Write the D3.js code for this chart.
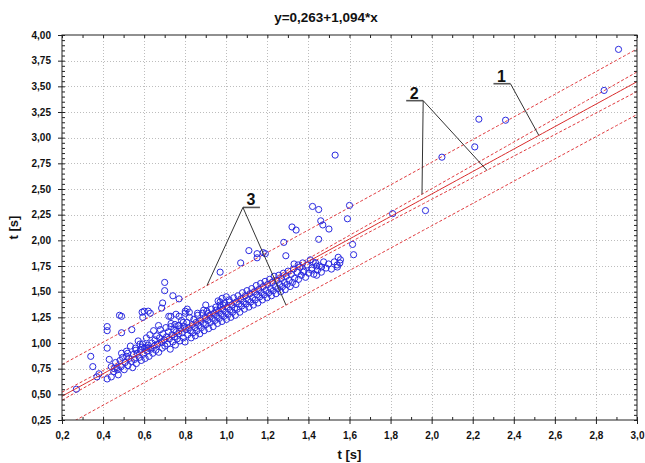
<!DOCTYPE html>
<html>
<head>
<meta charset="utf-8">
<script src="https://cdn.jsdelivr.net/npm/d3@7/dist/d3.min.js"></script>
<style>
  html, body { margin: 0; padding: 0; background: #fff; }
  svg { display: block; font-family: Arial, "Liberation Sans", sans-serif; }
</style>
</head>
<body>
<svg id="chart" width="645" height="463"></svg>
<script>
// Regression fit (as printed in the title)
const regIntercept = 0.263;
const regSlope = 1.094;
const titleText = "y=0,263+1,094*x";

// Band parameters: t*s, number of observations, mean of x, sum of squares of x
const tS = 0.305;
const nObs = 250;
const xMean = 0.95;
const sxx = 45;

// Axis ticks
const xTicks = [0.2, 0.4, 0.6, 0.8, 1.0, 1.2, 1.4, 1.6, 1.8, 2.0, 2.2, 2.4, 2.6, 2.8, 3.0];
const xTickLabels = ["0,2","0,4","0,6","0,8","1,0","1,2","1,4","1,6","1,8","2,0","2,2","2,4","2,6","2,8","3,0"];
const yTicks = [0.25, 0.5, 0.75, 1.0, 1.25, 1.5, 1.75, 2.0, 2.25, 2.5, 2.75, 3.0, 3.25, 3.5, 3.75, 4.0];
const yTickLabels = ["0,25","0,50","0,75","1,00","1,25","1,50","1,75","2,00","2,25","2,50","2,75","3,00","3,25","3,50","3,75","4,00"];
const xAxisTitle = "t [s]";
const yAxisTitle = "t [s]";

// Observations, scattered away from the main cloud
const outlierX = [0.27,0.34,0.35,0.37,0.38,0.42,0.42,0.42,0.43,0.42,0.44,0.44,0.455,0.47,0.48,0.49,0.49,0.49,0.515,0.52,
  0.54,0.56,0.58,0.59,0.59,0.60,0.62,0.63,0.593,0.61,0.62,0.67,0.685,0.69,0.70,0.70,0.72,0.73,0.74,0.77,
  0.73,0.75,0.77,0.755,0.77,0.79,0.80,0.81,0.82,0.80,0.86,0.89,0.90,0.91,0.95,0.97,0.97,1.00,0.985,1.015,
  0.96,0.98,1.07,1.11,1.15,1.18,1.19,1.15,1.28,1.29,1.32,1.34,1.42,1.45,1.46,1.47,1.50,1.45,1.53,1.60,
  1.59,1.615,1.62,1.81,1.97,2.05,2.21,2.23,2.36,2.84,2.91,1.375,1.416,1.44,1.33,1.35,1.423,1.44,1.464,1.545,
  1.553,1.54];
const outlierY = [0.55,0.87,0.77,0.67,0.70,0.95,1.12,1.16,0.84,0.65,0.67,0.77,0.75,0.74,1.27,1.26,1.10,0.90,0.87,0.90,
  1.13,0.93,0.99,0.96,1.30,1.31,1.31,1.29,1.25,0.96,0.95,1.17,1.34,1.39,1.59,1.51,1.26,1.26,1.46,1.43,
  1.16,1.18,1.17,1.28,1.26,1.20,1.29,1.33,1.30,1.31,1.29,1.32,1.37,1.29,1.32,1.69,1.40,1.45,1.37,1.40,
  1.41,1.435,1.78,1.90,1.87,1.88,1.87,1.83,1.98,1.85,2.13,2.10,2.33,2.30,2.19,2.15,2.11,2.01,2.83,2.34,
  2.21,1.96,1.86,2.26,2.29,2.81,2.91,3.18,3.17,3.46,3.86,1.69,1.71,1.66,1.77,1.76,1.79,1.75,1.74,1.835,
  1.78,1.76];

// Observations in the main cloud along the fitted line
const cloudX = [
  0.452,0.461,0.468,0.474,0.483,0.488,0.495,0.503,0.507,0.514,0.521,0.526,0.533,0.538,0.544,0.549,
  0.553,0.558,0.562,0.567,0.571,0.576,0.581,0.586,0.592,0.596,0.601,0.605,0.611,0.614,0.619,0.624,0.628,0.633,0.637,0.642,0.646,0.649,
  0.653,0.657,0.661,0.666,0.671,0.675,0.679,0.684,0.688,0.692,0.697,0.701,0.706,0.709,0.714,0.718,0.723,0.727,0.731,0.735,0.739,0.744,0.748,
  0.752,0.757,0.761,0.765,0.769,0.774,0.778,0.782,0.786,0.791,0.795,0.799,0.803,0.808,0.812,0.816,0.821,0.825,0.829,0.834,0.838,0.842,0.847,0.849,
  0.853,0.857,0.861,0.866,0.871,0.875,0.879,0.884,0.888,0.892,0.897,0.901,0.905,0.910,0.914,0.919,0.923,0.928,0.932,0.936,0.941,0.945,0.949,
  0.953,0.957,0.962,0.966,0.970,0.975,0.979,0.983,0.988,0.992,0.996,1.001,1.005,1.009,1.014,1.018,1.022,1.027,1.031,1.036,1.040,1.044,1.049,
  1.053,1.057,1.062,1.066,1.071,1.075,1.079,1.084,1.088,1.093,1.097,1.101,1.106,1.110,1.115,1.119,1.124,1.128,1.132,1.137,1.141,1.146,1.149,
  1.154,1.158,1.163,1.167,1.171,1.176,1.180,1.185,1.189,1.193,1.198,1.202,1.207,1.211,1.216,1.220,1.225,1.229,1.233,1.238,1.242,1.247,
  1.251,1.256,1.260,1.265,1.269,1.274,1.278,1.283,1.287,1.292,1.296,1.301,1.306,1.311,1.316,1.322,1.327,1.333,1.339,1.345,
  1.352,1.358,1.365,1.372,1.379,1.386,1.393,1.401,1.409,1.417,1.426,1.435,1.444,1.453,1.463,1.474,1.486,1.498,1.512,1.526,1.541,1.556];
const cloudY = [
  0.72,0.81,0.76,0.69,0.83,0.77,0.86,0.74,0.81,0.92,0.78,0.85,0.97,0.82,0.76,0.89,
  0.84,0.95,0.80,0.90,1.02,0.86,0.93,0.83,0.99,0.89,0.95,0.85,1.05,0.92,0.98,0.87,1.08,0.94,1.00,0.90,1.12,0.97,
  1.03,0.93,1.07,0.99,0.91,1.05,1.13,1.01,0.95,1.09,1.03,0.97,1.15,1.06,0.99,1.11,1.04,0.94,1.19,1.08,1.01,1.13,1.06,
  0.98,1.11,1.04,1.17,1.09,1.02,1.14,1.22,1.10,1.05,1.16,1.01,1.13,1.20,1.08,1.15,1.25,1.12,1.05,1.18,1.10,1.23,1.15,1.07,
  1.20,1.12,1.27,1.17,1.09,1.22,1.15,1.29,1.19,1.12,1.25,1.18,1.31,1.22,1.14,1.27,1.20,1.33,1.24,1.16,1.29,1.22,1.35,
  1.26,1.19,1.31,1.24,1.37,1.28,1.21,1.33,1.26,1.39,1.30,1.23,1.35,1.28,1.42,1.32,1.25,1.37,1.30,1.44,1.34,1.27,1.40,
  1.33,1.46,1.38,1.30,1.43,1.36,1.49,1.40,1.33,1.46,1.38,1.51,1.42,1.35,1.48,1.40,1.53,1.44,1.37,1.50,1.42,1.56,1.47,
  1.39,1.52,1.45,1.58,1.49,1.42,1.55,1.47,1.60,1.51,1.44,1.57,1.49,1.62,1.53,1.46,1.59,1.51,1.65,1.55,1.48,1.61,
  1.53,1.66,1.57,1.50,1.63,1.55,1.68,1.59,1.52,1.65,1.57,1.70,1.61,1.55,1.67,1.59,1.72,1.63,1.57,1.69,
  1.62,1.74,1.66,1.78,1.70,1.64,1.76,1.68,1.81,1.73,1.67,1.78,1.71,1.75,1.69,1.79,1.73,1.77,1.72,1.79,1.74,1.81];

// Leader annotations: label, label position, and where each leader meets a line
const annoLabels = ["1", "2", "3"];
const annoX = [2.34, 1.915, 1.12];
const annoY = [3.545, 3.38, 2.34];
const annoTargets = [
  [{ x: 2.522, band: "fit" }],
  [{ x: 1.953, band: "confUp" }, { x: 2.269, band: "confLo" }],
  [{ x: 0.906, band: "predUp" }, { x: 1.291, band: "predLo" }]
];

// ---------------------------------------------------------------
const svg = d3.select("#chart");
const margin = { left: 62, right: 8, top: 35, bottom: 43 };
const W = 645, H = 463;

const x = d3.scaleLinear().domain([0.2, 3.0]).range([margin.left, W - margin.right]);
const y = d3.scaleLinear().domain([0.25, 4.0]).range([H - margin.bottom, margin.top]);

const fit = v => regIntercept + regSlope * v;
const confHalf = v => tS * Math.sqrt(1 / nObs + (v - xMean) ** 2 / sxx);
const predHalf = v => tS * Math.sqrt(1 + 1 / nObs + (v - xMean) ** 2 / sxx);
const bands = {
  fit: fit,
  confUp: v => fit(v) + confHalf(v),
  confLo: v => fit(v) - confHalf(v),
  predUp: v => fit(v) + predHalf(v),
  predLo: v => fit(v) - predHalf(v)
};

// Grid
const grid = svg.append("g").attr("stroke", "#bdbdbd").attr("stroke-width", 1).attr("stroke-dasharray", "1,2");
grid.selectAll(".gx").data(xTicks.slice(1, -1)).join("line")
  .attr("x1", d => Math.round(x(d)) + 0.5).attr("x2", d => Math.round(x(d)) + 0.5)
  .attr("y1", y(4.0)).attr("y2", y(0.25));
grid.selectAll(".gy").data(yTicks.slice(1, -1)).join("line")
  .attr("y1", d => Math.round(y(d)) + 0.5).attr("y2", d => Math.round(y(d)) + 0.5)
  .attr("x1", x(0.2)).attr("x2", x(3.0));

// Clip for lines
svg.append("clipPath").attr("id", "plotClip").append("rect")
  .attr("x", x(0.2)).attr("y", y(4.0)).attr("width", x(3.0) - x(0.2)).attr("height", y(0.25) - y(4.0));

const xs = d3.range(0.2, 3.0001, 0.02);
const plot = svg.append("g").attr("clip-path", "url(#plotClip)");

function drawBand(fn, dashed) {
  plot.append("path")
    .datum(xs)
    .attr("fill", "none")
    .attr("stroke", dashed ? "#e0383c" : "#d92a2a")
    .attr("stroke-width", 1)
    .attr("stroke-dasharray", dashed ? "3,2" : null)
    .attr("d", d3.line().x(d => x(d)).y(d => y(fn(d))));
}
drawBand(bands.predUp, true);
drawBand(bands.predLo, true);
drawBand(bands.confUp, true);
drawBand(bands.confLo, true);

// Points
const points = outlierX.map((v, i) => [v, outlierY[i]]).concat(cloudX.map((v, i) => [v, cloudY[i]]));
plot.append("g").selectAll("circle").data(points).join("circle")
  .attr("cx", d => x(d[0])).attr("cy", d => y(d[1])).attr("r", 3.1)
  .attr("fill", "none").attr("stroke", "#2a2ae0").attr("stroke-width", 1);

drawBand(bands.fit, false);

// Axes
const fmtX = (d, i) => xTickLabels[i];
const fmtY = (d, i) => yTickLabels[i];
const minorX = d3.range(0.2, 3.0001, 0.1).map(v => +v.toFixed(2));
const minorY = d3.range(0.25, 4.0001, 0.05).map(v => +v.toFixed(2));

function styleAxis(g) {
  g.select(".domain").remove();
  g.selectAll("line").attr("stroke", "#222");
  g.selectAll("text").attr("font-size", 10).attr("font-weight", "bold").attr("fill", "#111")
    .attr("font-family", "Arial, 'Liberation Sans', sans-serif");
}

// bottom: major outward, minor inward
svg.append("g").attr("transform", `translate(0,${y(0.25)})`)
  .call(d3.axisBottom(x).tickValues(xTicks).tickFormat(fmtX).tickSize(4).tickPadding(8))
  .call(styleAxis);
svg.append("g").attr("transform", `translate(0,${y(0.25)})`)
  .call(d3.axisBottom(x).tickValues(minorX).tickFormat("").tickSize(-3))
  .call(styleAxis);
// left: major outward, minor inward
svg.append("g").attr("transform", `translate(${x(0.2)},0)`)
  .call(d3.axisLeft(y).tickValues(yTicks).tickFormat(fmtY).tickSize(4).tickPadding(7))
  .call(styleAxis);
svg.append("g").attr("transform", `translate(${x(0.2)},0)`)
  .call(d3.axisLeft(y).tickValues(minorY).tickFormat("").tickSize(-3))
  .call(styleAxis);
// top and right: inward ticks only
svg.append("g").attr("transform", `translate(0,${y(4.0)})`)
  .call(d3.axisTop(x).tickValues(minorX).tickFormat("").tickSize(-3))
  .call(styleAxis);
svg.append("g").attr("transform", `translate(${x(3.0)},0)`)
  .call(d3.axisRight(y).tickValues(minorY).tickFormat("").tickSize(-3))
  .call(styleAxis);

// Frame
svg.append("rect")
  .attr("x", x(0.2)).attr("y", y(4.0))
  .attr("width", x(3.0) - x(0.2)).attr("height", y(0.25) - y(4.0))
  .attr("fill", "none").attr("stroke", "#222").attr("stroke-width", 1);

// Annotations
const anno = svg.append("g");
annoLabels.forEach((lab, i) => {
  const cx = x(annoX[i]), by = y(annoY[i]);
  anno.append("text").attr("x", cx).attr("y", by)
    .attr("text-anchor", "middle").attr("font-size", 16).attr("font-weight", "bold")
    .attr("fill", "#111").text(lab);
  const ux0 = cx - 8, ux1 = cx + 9, uy = by + 2;
  anno.append("line").attr("x1", ux0).attr("x2", ux1).attr("y1", uy).attr("y2", uy)
    .attr("stroke", "#555").attr("stroke-width", 1.6);
  const sx = i === 2 ? ux0 : ux1;
  annoTargets[i].forEach(t => {
    anno.append("line").attr("x1", sx).attr("y1", uy)
      .attr("x2", x(t.x)).attr("y2", y(bands[t.band](t.x)))
      .attr("stroke", "#333").attr("stroke-width", 1);
  });
});

// Titles
svg.append("text").attr("x", 326).attr("y", 22).attr("text-anchor", "middle")
  .attr("font-size", 13.5).attr("font-weight", "bold").attr("fill", "#111").text(titleText);
svg.append("text").attr("x", (x(0.2) + x(3.0)) / 2).attr("y", 459).attr("text-anchor", "middle")
  .attr("font-size", 13).attr("font-weight", "bold").attr("fill", "#111").text(xAxisTitle);
svg.append("text").attr("transform", `translate(18,${(y(0.25) + y(4.0)) / 2}) rotate(-90)`)
  .attr("text-anchor", "middle").attr("font-size", 13).attr("font-weight", "bold")
  .attr("fill", "#111").text(yAxisTitle);
</script>
</body>
</html>
